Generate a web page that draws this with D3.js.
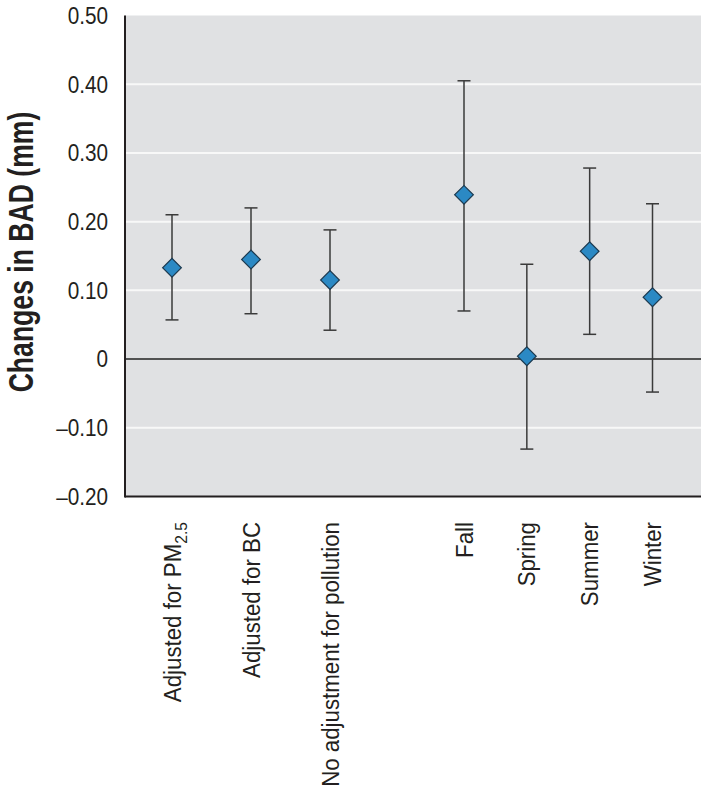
<!DOCTYPE html>
<html>
<head>
<meta charset="utf-8">
<script src="https://cdn.jsdelivr.net/npm/d3@7"></script>
<style>
  html, body { margin: 0; padding: 0; background: #ffffff; }
  svg { display: block; }
</style>
</head>
<body>
<svg id="chart" width="701" height="800"></svg>
<script>
// ---- data ----
const categories = ["Adjusted for PM2.5", "Adjusted for BC", "No adjustment for pollution", "Fall", "Spring", "Summer", "Winter"];
const adjustmentGroup = ["Adjusted for PM2.5", "Adjusted for BC", "No adjustment for pollution"];
const seasonGroup = ["Fall", "Spring", "Summer", "Winter"];
const estimate = [0.133, 0.145, 0.115, 0.239, 0.004, 0.157, 0.090];
const lower    = [0.057, 0.066, 0.042, 0.070, -0.131, 0.036, -0.048];
const upper    = [0.210, 0.220, 0.188, 0.405, 0.138, 0.278, 0.226];
const yTicks = [-0.2, -0.1, 0, 0.1, 0.2, 0.3, 0.4, 0.5];
const yTickLabels = ["\u20130.20", "\u20130.10", "0", "0.10", "0.20", "0.30", "0.40", "0.50"];
const yTitle = "Changes in BAD (mm)";

// ---- layout ----
const plot = { left: 125, right: 701, top: 15.5, bottom: 496.5 };
const FONT = "'Liberation Sans', Arial, sans-serif";
const svg = d3.select("#chart");

const y = d3.scaleLinear().domain([-0.2, 0.5]).range([plot.bottom, plot.top]);
const xAdj = d3.scalePoint().domain(adjustmentGroup).range([172, 330]);
const xSea = d3.scalePoint().domain(seasonGroup).range([464, 652.5]);
const x = c => adjustmentGroup.includes(c) ? xAdj(c) : xSea(c);

const rows = categories.map((c, i) => ({ c, est: estimate[i], lo: lower[i], hi: upper[i] }));

// background
svg.append("rect")
  .attr("x", plot.left).attr("y", plot.top)
  .attr("width", plot.right - plot.left).attr("height", plot.bottom - plot.top)
  .attr("fill", "#e0e1e3");

// gridlines
svg.append("g").selectAll("line")
  .data(yTicks.filter(t => t !== 0 && t !== 0.5 && t !== -0.2))
  .join("line")
  .attr("x1", plot.left).attr("x2", plot.right)
  .attr("y1", d => y(d)).attr("y2", d => y(d))
  .attr("stroke", "#f8f8f8").attr("stroke-width", 2);

// zero line
svg.append("line")
  .attr("x1", plot.left).attr("x2", plot.right)
  .attr("y1", y(0)).attr("y2", y(0))
  .attr("stroke", "#222").attr("stroke-width", 1.5);

// axes lines
svg.append("line")
  .attr("x1", plot.left).attr("x2", plot.left)
  .attr("y1", plot.top).attr("y2", plot.bottom + 1)
  .attr("stroke", "#231f20").attr("stroke-width", 2);
svg.append("line")
  .attr("x1", plot.left).attr("x2", plot.right)
  .attr("y1", plot.bottom).attr("y2", plot.bottom)
  .attr("stroke", "#231f20").attr("stroke-width", 2);

// y tick labels (condensed look via horizontal scale)
svg.append("g").selectAll("text")
  .data(yTicks)
  .join("text")
  .attr("transform", d => `translate(108, ${y(d)}) scale(0.89, 1)`)
  .attr("dy", "0.36em")
  .attr("text-anchor", "end")
  .attr("font-family", FONT)
  .attr("font-size", 23.3)
  .attr("fill", "#231f20")
  .text((d, i) => yTickLabels[i]);

// y title
svg.append("text")
  .attr("transform", `translate(33, 252) rotate(-90) scale(0.76, 1)`)
  .attr("text-anchor", "middle")
  .attr("font-family", FONT)
  .attr("font-weight", "bold")
  .attr("font-size", 35)
  .attr("fill", "#231f20")
  .text(yTitle);

// x labels
const xl = svg.append("g").selectAll("text")
  .data(categories)
  .join("text")
  .attr("transform", d => `translate(${x(d) + 8.5}, 522) rotate(-90) scale(0.92, 1)`)
  .attr("text-anchor", "end")
  .attr("font-family", FONT)
  .attr("font-size", 24.2)
  .attr("fill", "#231f20");
xl.each(function(d) {
  const t = d3.select(this);
  const m = d.match(/^(.*PM)(2\.5)$/);
  if (m) {
    t.append("tspan").text(m[1]);
    t.append("tspan").attr("font-size", 17).attr("dy", 6).text(m[2]);
  } else {
    t.text(d);
  }
});

// error bars
const eb = svg.append("g").selectAll("g").data(rows).join("g");
eb.append("line")
  .attr("x1", d => x(d.c)).attr("x2", d => x(d.c))
  .attr("y1", d => y(d.hi)).attr("y2", d => y(d.lo))
  .attr("stroke", "#3a3a3a").attr("stroke-width", 1.5);
eb.append("line")
  .attr("x1", d => x(d.c) - 6.5).attr("x2", d => x(d.c) + 6.5)
  .attr("y1", d => y(d.hi)).attr("y2", d => y(d.hi))
  .attr("stroke", "#3a3a3a").attr("stroke-width", 1.5);
eb.append("line")
  .attr("x1", d => x(d.c) - 6.5).attr("x2", d => x(d.c) + 6.5)
  .attr("y1", d => y(d.lo)).attr("y2", d => y(d.lo))
  .attr("stroke", "#3a3a3a").attr("stroke-width", 1.5);

// diamonds
const sym = d3.symbol().type(d3.symbolSquare).size(175);
svg.append("g").selectAll("path")
  .data(rows)
  .join("path")
  .attr("d", sym)
  .attr("transform", d => `translate(${x(d.c)}, ${y(d.est)}) rotate(45)`)
  .attr("fill", "#2b89c4")
  .attr("stroke", "#1c3a50")
  .attr("stroke-width", 1.2);
</script>
</body>
</html>
